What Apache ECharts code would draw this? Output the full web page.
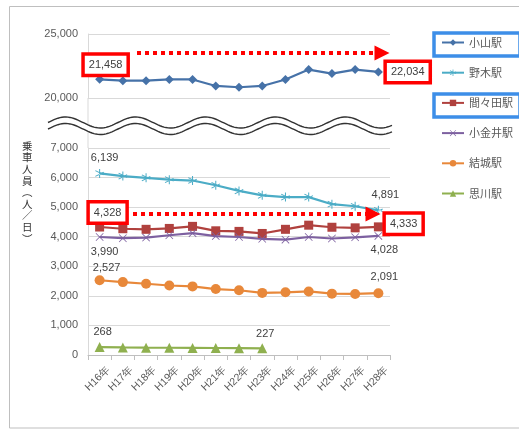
<!DOCTYPE html>
<html>
<head>
<meta charset="utf-8">
<script src="https://cdn.jsdelivr.net/npm/echarts@6/dist/echarts.min.js"></script>
<style>
  html, body { margin: 0; padding: 0; background: #fff; }
  #main { width: 519px; height: 430px; }
</style>
</head>
<body>
<div id="main"></div>
<script>
// ---- data ----
var years = ['H16年', 'H17年', 'H18年', 'H19年', 'H20年', 'H21年', 'H22年', 'H23年', 'H24年', 'H25年', 'H26年', 'H27年', 'H28年'];
var stations = ['小山駅', '野木駅', '間々田駅', '小金井駅', '結城駅', '思川駅'];
var oyama    = [21458, 21350, 21350, 21450, 21450, 20940, 20840, 20940, 21450, 22220, 21910, 22220, 22034];
var nogi     = [6139, 6050, 5990, 5930, 5900, 5740, 5550, 5400, 5340, 5340, 5100, 5030, 4891];
var mamada   = [4328, 4270, 4250, 4280, 4350, 4200, 4180, 4110, 4250, 4390, 4320, 4300, 4333];
var koganei  = [3990, 3950, 3970, 4050, 4120, 4020, 3990, 3930, 3900, 3990, 3940, 3980, 4028];
var yuki     = [2527, 2465, 2410, 2350, 2320, 2230, 2190, 2100, 2120, 2150, 2075, 2065, 2091];
var omoigawa = [268, 255, 248, 245, 240, 236, 232, 227, null, null, null, null, null];

var upperTicks = [20000, 25000];
var lowerTicks = [0, 7000, 1000];

var FONT = 'Liberation Sans';
var TXT = '#595959';
var GRID = '#d9d9d9';

var chart = echarts.init(document.getElementById('main'));

// put a label on chosen points only
function withLabels(values, labels) {
    var res = [];
    for (var i = 0; i < values.length; i++) {
        if (labels[i]) {
            res.push({ value: values[i], label: labels[i] });
        } else {
            res.push(values[i]);
        }
    }
    return res;
}

function plainLabel(pos, dist, dx) {
    return {
        show: true, position: pos, distance: dist, offset: [dx, 0],
        color: '#404040', fontSize: 11, fontFamily: FONT,
        formatter: function (p) { return echarts.format.addCommas(p.value); }
    };
}
function boxLabel(pos, dist, off) {
    return {
        show: true, position: pos, distance: dist, offset: off,
        color: '#404040', fontSize: 11, fontFamily: FONT,
        backgroundColor: '#fff', borderColor: '#ff0000', borderWidth: 3.5,
        padding: [4, 4, 3, 4],
        formatter: function (p) { return echarts.format.addCommas(p.value); }
    };
}

var last = years.length - 1;
var lbl = function (a, b) { var o = {}; o[0] = a; o[b[0]] = b[1]; return o; };

// asterisk and cross markers (Excel style)
var starPath = 'path://M9,0h2v20h-2z M1.2,4.3l1-1.7l16.6,9.6l-1,1.7z M1.2,15.7l1,1.7l16.6,-9.6l-1,-1.7z';
var crossPath = 'path://M1.4,0L10,8.6L18.6,0L20,1.4L11.4,10L20,18.6L18.6,20L10,11.4L1.4,20L0,18.6L8.6,10L0,1.4z';

function lineSeries(name, data, color, symbol, size, grid) {
    return {
        name: name, type: 'line', data: data,
        xAxisIndex: grid, yAxisIndex: grid,
        symbol: symbol, symbolSize: size,
        lineStyle: { color: color, width: 2.2 },
        itemStyle: { color: color },
        connectNulls: false,
        animation: false
    };
}

function dottedArrow(x1, x2, y) {
    return {
        silent: true, symbol: ['none', 'triangle'], symbolSize: 15,
        label: { show: false },
        lineStyle: { color: '#ff0000', width: 4, type: [4, 4] },
        data: [[{ x: x1, y: y }, { x: x2, y: y }]]
    };
}

// break mark (two wavy lines)
function wave(base) {
    var pts = [];
    for (var x = 48; x <= 393; x += 2) {
        pts.push([x, base - 5.5 * Math.sin(2 * Math.PI * (x - 48) / 70)]);
    }
    return pts;
}
var w1 = wave(122.5), w2 = wave(129);

var option = {
    animation: false,
    grid: [
        { left: 88, width: 302, top: 34, height: 64 },
        { left: 88, width: 302, top: 148, height: 207 }
    ],
    xAxis: [
        { type: 'category', gridIndex: 0, data: years, show: false },
        {
            type: 'category', gridIndex: 1, data: years,
            axisLine: { lineStyle: { color: '#bfbfbf' } },
            axisTick: { show: true, length: 5, lineStyle: { color: '#bfbfbf' } },
            axisLabel: { rotate: 45, color: TXT, fontSize: 10.5, fontFamily: FONT, margin: 4, interval: 0,
                         verticalAlign: 'top', padding: [7, 0, 0, 0] }
        }
    ],
    yAxis: [
        {
            type: 'value', gridIndex: 0, min: upperTicks[0], max: upperTicks[1], interval: upperTicks[1] - upperTicks[0],
            axisLine: { show: true, lineStyle: { color: GRID } },
            axisTick: { show: false },
            splitLine: { lineStyle: { color: GRID } },
            axisLabel: { color: TXT, fontSize: 11, fontFamily: FONT, margin: 10,
                formatter: function (v) { return echarts.format.addCommas(v); } }
        },
        {
            type: 'value', gridIndex: 1, min: lowerTicks[0], max: lowerTicks[1], interval: lowerTicks[2],
            axisLine: { show: true, lineStyle: { color: GRID } },
            axisTick: { show: false },
            splitLine: { lineStyle: { color: GRID } },
            axisLabel: { color: TXT, fontSize: 11, fontFamily: FONT, margin: 10,
                formatter: function (v) { return echarts.format.addCommas(v); } }
        }
    ],
    legend: {
        orient: 'vertical', left: 436, top: 32,
        itemWidth: 22, itemHeight: 8, itemGap: 19.2,
        textStyle: { color: TXT, fontSize: 11, fontFamily: 'Noto Sans CJK JP' },
        data: stations
    },
    series: [
        (function () {
            var s = lineSeries(stations[0], withLabels(oyama, lbl(boxLabel('top', 1, [6, 0]), [last, boxLabel('right', 4, [0, 0])])), '#4672a8', 'diamond', 9, 0);
            s.markLine = dottedArrow(137, 382, 53);
            return s;
        })(),
        lineSeries(stations[1], withLabels(nogi, lbl(plainLabel('top', 5, 5), [last, plainLabel('top', 5, 7)])), '#4bacc6', starPath, 9, 1),
        (function () {
            var s = lineSeries(stations[2], withLabels(mamada, lbl(boxLabel('top', 1, [8, 0]), [last, boxLabel('right', 3, [0, -3])])), '#b0413e', 'rect', 9, 1);
            s.markLine = dottedArrow(133, 373, 214);
            return s;
        })(),
        lineSeries(stations[3], withLabels(koganei, lbl(plainLabel('bottom', 5, 5), [last, plainLabel('bottom', 5, 6)])), '#7d60a0', crossPath, 8, 1),
        lineSeries(stations[4], withLabels(yuki, lbl(plainLabel('top', 2, 7), [last, plainLabel('top', 6, 6)])), '#e8883a', 'circle', 10, 1),
        lineSeries(stations[5], withLabels(omoigawa, lbl(plainLabel('top', 5, 3), [7, plainLabel('top', 4, 3)])), '#8fb04f', 'triangle', 10, 1)
    ],
    graphic: [
        // outer frame
        { type: 'rect', shape: { x: 9.5, y: 6.5, width: 530, height: 421.5 },
          style: { fill: null, stroke: '#bfbfbf', lineWidth: 1 }, z: 1 },
        // axis through the break
        { type: 'line', shape: { x1: 88, y1: 98, x2: 88, y2: 148 }, style: { stroke: GRID, lineWidth: 1 }, z: 1 },
        // white band between waves
        { type: 'polygon', shape: { points: w1.concat(w2.slice().reverse()) }, style: { fill: '#fff' }, z: 50 },
        { type: 'polyline', shape: { points: w1, smooth: 0 }, style: { stroke: '#333', lineWidth: 1.4, fill: null }, z: 51 },
        { type: 'polyline', shape: { points: w2, smooth: 0 }, style: { stroke: '#333', lineWidth: 1.4, fill: null }, z: 51 },
        // y-axis name, vertical
        { type: 'text', left: 22, top: 140, z: 10,
          style: { text: '乗\n車\n人\n員\n︵\n人\n／\n日\n︶', fill: '#333', fontSize: 10.5, lineHeight: 11.6,
                   fontFamily: 'Noto Sans CJK JP', align: 'left' } },
        // blue boxes around two legend entries
        { type: 'rect', shape: { x: 434, y: 33, width: 86, height: 23 },
          style: { fill: null, stroke: '#3d8ee8', lineWidth: 3.5 }, z: 60 },
        { type: 'rect', shape: { x: 434, y: 94, width: 86, height: 23 },
          style: { fill: null, stroke: '#3d8ee8', lineWidth: 3.5 }, z: 60 }
    ]
};

chart.setOption(option);
</script>
</body>
</html>
